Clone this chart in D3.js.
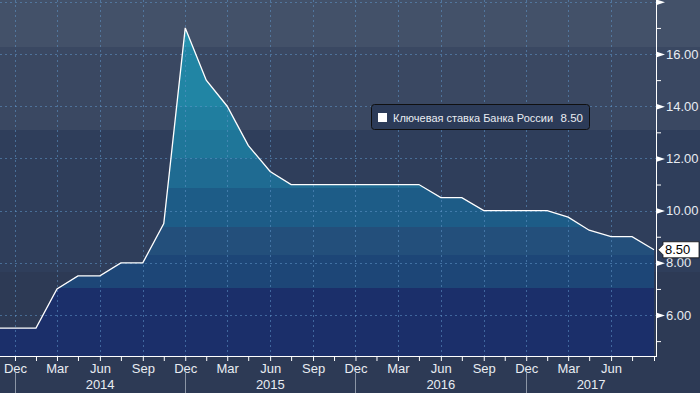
<!DOCTYPE html>
<html>
<head>
<meta charset="utf-8">
<script src="https://cdn.jsdelivr.net/npm/d3@7"></script>
<style>
  body { margin: 0; background: #2d3a55; }
  text { font-family: "Liberation Sans", Arial, sans-serif; }
</style>
</head>
<body>
<div id="chart"></div>
<script>
// DATA - key rate of the Bank of Russia, sampled every 1.5 months
var dates = ['2013-10-15','2013-12-01','2014-01-15','2014-03-01','2014-04-15','2014-06-01','2014-07-16',
             '2014-09-01','2014-10-16','2014-12-01','2015-01-15','2015-03-01','2015-04-15','2015-06-01',
             '2015-07-16','2015-09-01','2015-10-16','2015-12-01','2016-01-15','2016-03-01','2016-04-15',
             '2016-06-01','2016-07-16','2016-09-01','2016-10-16','2016-12-01','2017-01-15','2017-03-01',
             '2017-04-15','2017-06-01','2017-07-16','2017-09-01'];
var rates = [5.5, 5.5, 5.5, 7.0, 7.5, 7.5, 8.0,
             8.0, 9.5, 17.0, 15.0, 14.0, 12.5, 11.5,
             11.0, 11.0, 11.0, 11.0, 11.0, 11.0, 11.0,
             10.5, 10.5, 10.0, 10.0, 10.0, 10.0, 9.75,
             9.25, 9.0, 9.0, 8.5];

var monthLabelDates = ['2013-12-01','2014-03-01','2014-06-01','2014-09-01','2014-12-01','2015-03-01',
                       '2015-06-01','2015-09-01','2015-12-01','2016-03-01','2016-06-01','2016-09-01',
                       '2016-12-01','2017-03-01','2017-06-01'];
var years = ['2014', '2015', '2016', '2017'];
var yearStarts = ['2013-12-01', '2014-12-01', '2015-12-01', '2016-12-01'];
var yTickValues = [5, 6, 7, 8, 9, 10, 11, 12, 13, 14, 15, 16, 17, 18];
var seriesName = 'Ключевая ставка Банка России';
var lastValue = 8.50;

var parse = d3.timeParse('%Y-%m-%d');
var dataset = dates.map(function(d, i) { return { date: parse(d), y: rates[i] }; });

var W = 700, H = 393;
var plotW = 656, plotH = 356;

// SCALES
var xScale = d3.scaleTime().domain([parse('2013-12-01'), parse('2017-09-01')]).range([15, 654]);
var yScale = d3.scaleLinear().domain([4.43, 18.07]).range([plotH, 0]);

var svg = d3.select('#chart').append('svg')
    .attr('width', W)
    .attr('height', H);

// BACKGROUND BANDS
var bgBands = [[0, 47, '#435169'], [47, 130, '#3a4862'], [130, 272, '#2f3e5b'], [272, H, '#2d3a55']];
svg.selectAll('.bg').data(bgBands).enter().append('rect')
    .attr('x', 0).attr('y', function(d) { return d[0]; })
    .attr('width', W).attr('height', function(d) { return d[1] - d[0]; })
    .style('fill', function(d) { return d[2]; });

var defs = svg.append('defs');
defs.append('clipPath').attr('id', 'plotclip')
    .append('rect').attr('x', 0).attr('y', 0).attr('width', plotW).attr('height', plotH);

// stepped gradient for the area
var areaBands = [[0, 47, '#2491ad'], [47, 107, '#2185a4'], [107, 130, '#207e9f'], [130, 158, '#1f7699'],
                 [158, 188, '#1f6b92'], [188, 227, '#1d5c87'], [227, 255, '#234f7b'],
                 [255, 288, '#1d4677'], [288, plotH, '#1b2f6a']];
var grad = defs.append('linearGradient').attr('id', 'areaGrad')
    .attr('gradientUnits', 'userSpaceOnUse')
    .attr('x1', 0).attr('y1', 0).attr('x2', 0).attr('y2', plotH);
areaBands.forEach(function(b) {
    grad.append('stop').attr('offset', b[0] / plotH).attr('stop-color', b[2]);
    grad.append('stop').attr('offset', b[1] / plotH).attr('stop-color', b[2]);
});

var plot = svg.append('g').attr('clip-path', 'url(#plotclip)');

// AREA
var area = d3.area()
    .x(function(d) { return xScale(d.date); })
    .y0(plotH)
    .y1(function(d) { return yScale(d.y); });

plot.append('path')
    .datum(dataset)
    .attr('d', area)
    .style('fill', 'url(#areaGrad)');

// GRIDLINES
var gridColor = 'rgba(95,150,200,0.55)';
plot.selectAll('.hgrid')
    .data(yTickValues.filter(function(v) { return v % 2 === 0; }))
    .enter().append('line')
    .attr('x1', 0).attr('x2', plotW)
    .attr('y1', function(d) { return Math.round(yScale(d)) + 0.5; })
    .attr('y2', function(d) { return Math.round(yScale(d)) + 0.5; })
    .style('stroke', gridColor).style('stroke-dasharray', '2,3');

plot.selectAll('.vgrid')
    .data(monthLabelDates)
    .enter().append('line')
    .attr('x1', function(d) { return Math.round(xScale(parse(d))) + 0.5; })
    .attr('x2', function(d) { return Math.round(xScale(parse(d))) + 0.5; })
    .attr('y1', 0).attr('y2', plotH)
    .style('stroke', gridColor).style('stroke-dasharray', '2,3');

// LINE
var line = d3.line()
    .x(function(d) { return xScale(d.date); })
    .y(function(d) { return yScale(d.y); });

plot.append('path')
    .datum(dataset)
    .attr('d', line)
    .style('fill', 'none')
    .style('stroke', '#ffffff')
    .style('stroke-width', 1.3);

// X AXIS
var xAxis = svg.append('g')
    .attr('transform', 'translate(0,' + plotH + ')')
    .call(d3.axisBottom(xScale)
        .tickValues(dataset.slice(1).map(function(d) { return d.date; }))
        .tickSize(5)
        .tickFormat(function(d) {
            var s = d3.timeFormat('%Y-%m-%d')(d);
            return monthLabelDates.indexOf(s) >= 0 ? d3.timeFormat('%b')(d) : '';
        }));
xAxis.select('.domain').attr('d', 'M0,0.5H' + plotW).style('stroke', '#ffffff');
xAxis.selectAll('.tick line').style('stroke', '#ffffff');
xAxis.selectAll('.tick text')
    .attr('y', 8)
    .style('fill', '#e8ecf2').style('font-size', '13px')
    .style('font-family', '"Liberation Sans", Arial, sans-serif');

// year separators and labels
var yearX = yearStarts.map(function(d) { return xScale(parse(d)); });
svg.selectAll('.ysep').data(yearX).enter().append('line')
    .attr('x1', function(d) { return Math.round(d) + 0.5; })
    .attr('x2', function(d) { return Math.round(d) + 0.5; })
    .attr('y1', 373).attr('y2', H)
    .style('stroke', '#8b95a5');

svg.selectAll('.ylab').data(years).enter().append('text')
    .attr('x', function(d, i) { return ((yearX[i]) + (i < yearX.length - 1 ? yearX[i + 1] : plotW)) / 2; })
    .attr('y', 389)
    .attr('text-anchor', 'middle')
    .style('fill', '#e8ecf2').style('font-size', '13px')
    .text(function(d) { return d; });

// Y AXIS (right)
var yAxis = svg.append('g')
    .attr('transform', 'translate(' + plotW + ',0)')
    .call(d3.axisRight(yScale)
        .tickValues(yTickValues)
        .tickSize(0)
        .tickPadding(10)
        .tickFormat(function(d) { return (d % 2 === 0 && d < 18) ? d3.format('.2f')(d) : ''; }));
yAxis.select('.domain').attr('d', 'M0.5,0V' + (plotH + 1)).style('stroke', '#ffffff');
yAxis.selectAll('.tick text')
    .style('fill', '#e8ecf2').style('font-size', '13px')
    .style('font-family', '"Liberation Sans", Arial, sans-serif');
yAxis.selectAll('.tick').each(function(d) {
    var g = d3.select(this);
    if (d % 2 === 0) {
        g.append('path').attr('d', 'M0,-3L9,0L0,3Z').style('fill', '#ffffff');
    } else {
        g.append('line').attr('x1', 0).attr('x2', 5).style('stroke', '#ffffff');
    }
});

// last value marker
var ly = yScale(lastValue);
svg.append('path')
    .attr('d', 'M658,' + ly + 'L663,' + (ly - 5) + 'L663,' + (ly - 8) + 'L699,' + (ly - 8) +
               'L699,' + (ly + 8) + 'L663,' + (ly + 8) + 'L663,' + (ly + 5) + 'Z')
    .style('fill', '#ffffff').style('stroke', '#111111').style('stroke-width', 0.8);
svg.append('text')
    .attr('x', 665).attr('y', ly + 4.5)
    .style('fill', '#000000').style('font-size', '13px')
    .text(d3.format('.2f')(lastValue));

// LEGEND
var legend = svg.append('g').attr('transform', 'translate(371,104)');
legend.append('rect')
    .attr('x', 0.5).attr('y', 0.5).attr('width', 218).attr('height', 25).attr('rx', 3)
    .style('fill', '#2c3b58').style('stroke', '#101010');
legend.append('rect')
    .attr('x', 7).attr('y', 9).attr('width', 9).attr('height', 9)
    .style('fill', '#ffffff');
legend.append('text')
    .attr('x', 22).attr('y', 17.5)
    .style('fill', '#e8ecf2').style('font-size', '11px')
    .text(seriesName);
legend.append('text')
    .attr('x', 212).attr('y', 17.5)
    .attr('text-anchor', 'end')
    .style('fill', '#e8ecf2').style('font-size', '11.5px')
    .text(d3.format('.2f')(lastValue));
</script>
</body>
</html>
